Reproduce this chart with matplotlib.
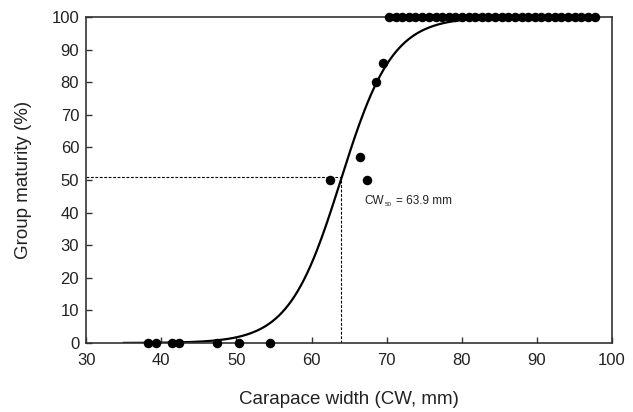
import numpy as np
import matplotlib.pyplot as plt

plt.rcParams['font.family'] = ['Liberation Sans', 'DejaVu Sans']

# observed maturity per size group
cw_low = [38.3, 39.3, 41.4, 42.4, 47.4, 50.3, 54.5]
mat_low = [0, 0, 0, 0, 0, 0, 0]

cw_mid = [62.5, 66.5, 67.4, 68.6, 69.5]
mat_mid = [50, 57, 50, 80, 86]

cw_high = [70.3, 71.2, 72.1, 73.0, 73.8, 74.7, 75.6, 76.5, 77.4, 78.3, 79.1,
           80.0, 80.9, 81.8, 82.7, 83.5, 84.4, 85.3, 86.2, 87.1, 88.0, 88.8,
           89.7, 90.6, 91.5, 92.4, 93.2, 94.1, 95.0, 95.9, 96.8, 97.7]
mat_high = [100] * len(cw_high)

# logistic fit
cw50 = 63.9
slope = 0.29

xs = np.linspace(35, 98, 300)
ys = 100 / (1 + np.exp(-slope * (xs - cw50)))

fig = plt.figure(figsize=(6.33, 4.12), dpi=100)
ax = fig.add_axes([0.136, 0.1675, 0.831, 0.7912])

ax.plot(xs, ys, color='black', lw=1.6, zorder=2)
ax.scatter(cw_low + cw_mid + cw_high, mat_low + mat_mid + mat_high,
           s=34, color='black', zorder=3, clip_on=False)

ax.plot([30, cw50], [51, 51], color='black', lw=0.8, ls=(0, (2.5, 1.5)))
ax.plot([cw50, cw50], [0, 51], color='black', lw=0.8, ls=(0, (2.5, 1.5)))

ax.text(67.0, 43.5, 'CW', fontsize=8.5, va='center', color='#222222')
ax.text(69.8, 42.5, '50', fontsize=4.5, va='center', color='#222222')
ax.text(71.2, 43.5, '= 63.9 mm', fontsize=8.5, va='center', color='#222222')

ax.set_xlim(30, 100)
ax.set_ylim(0, 100)
ax.set_xticks(range(30, 101, 10))
ax.set_yticks(range(0, 101, 10))
ax.tick_params(direction='in', length=4, width=1, labelsize=12, colors='#333333',
               labelcolor='#222222')
ax.tick_params(axis='x', pad=7)
ax.tick_params(axis='y', pad=5)
for sp in ax.spines.values():
    sp.set_color('#333333')
    sp.set_linewidth(1.2)

ax.set_xlabel('Carapace width (CW, mm)', fontsize=13.5, labelpad=17, color='#222222')
ax.set_ylabel('Group maturity (%)', fontsize=13.5, labelpad=14, color='#222222')

fig.savefig('out.png', dpi=100)
